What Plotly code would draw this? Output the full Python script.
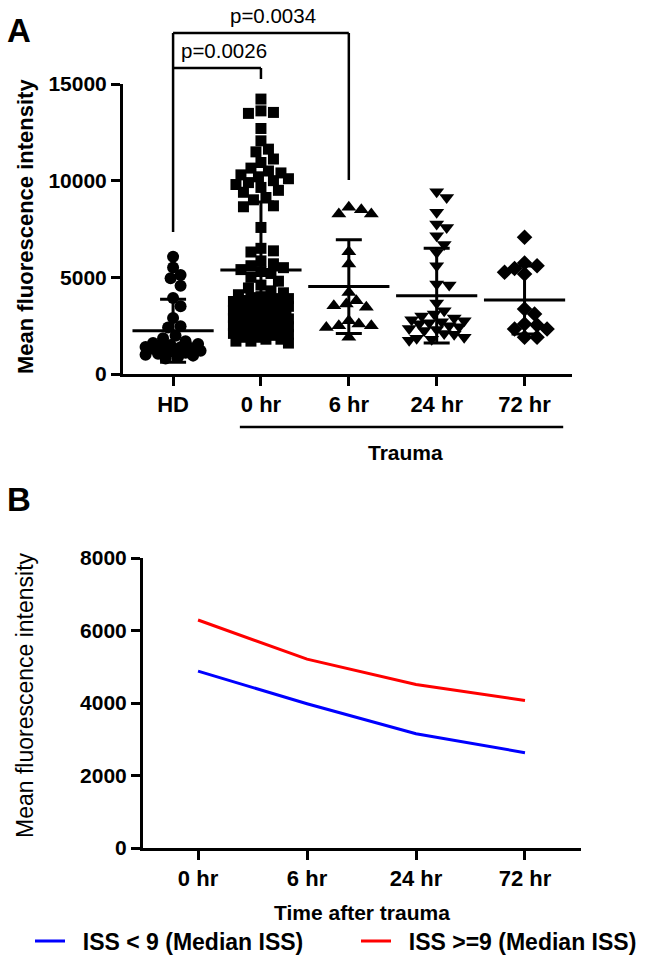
import plotly.graph_objects as go
import numpy as np

# ---------------- Panel A data ----------------
CATEGORIES_A = ["HD", "0 hr", "6 hr", "24 hr", "72 hr"]

HD = [6070, 5510, 4950, 5120, 4570, 3930, 3500, 2900, 2470, 2410,
      1980, 1850, 1700, 1600, 1550, 1500, 1450, 1400, 1380, 1350,
      1300, 1250, 1200, 1150, 1100, 1050, 1000, 950, 880, 800]

HR0 = [14220, 13610, 13530, 13480, 12700, 12060, 11630, 11490, 11120, 10940,
       10650, 10500, 10400, 10300, 10200, 10100, 10000, 9900, 9800, 9650, 9500, 9400,
       9130, 9010, 8700, 8650, 7580, 6500, 6370, 6310,
       5850, 5700, 5600, 5500, 5400, 5300, 5200, 5000, 4800, 4600,
       4450, 4300, 4200, 4100, 4000, 3950, 3900, 3800, 3750, 3700,
       3650, 3600, 3550, 3500, 3450, 3400, 3350, 3300, 3250, 3200,
       3150, 3100, 3050, 3000, 2950, 2900, 2850, 2800, 2700, 2600,
       2500, 2400, 2300, 2200, 2100, 2000, 1900, 1800, 1700, 1600,
       3900, 3700, 3500, 3300, 3100, 2900, 2700, 2500, 2300, 2100,
       1900, 1700, 3800, 3400, 3000, 2600, 2200, 1800, 2050, 2450]

HR6 = [8500, 8270, 8270, 8620, 6320, 5690, 4220, 3620, 3790, 3530,
       3450, 2590, 2500, 2760, 2500, 1900, 2400]

HR24 = [9430, 9130, 8360, 7580, 7760, 7150, 6700, 6290, 5600, 4600, 4650, 3670,
        3270, 3100, 3000, 2900, 2800, 2700, 2600, 2500, 2300, 2100, 1900, 1750,
        2750, 2650, 2450, 2350, 2250, 2050, 1850, 1800]

HR72 = [7070, 5740, 5460, 5600, 5170, 5260, 3360, 3100, 2590, 2530,
        2330, 1900, 1900, 2330]

MEANS_A = [2240, 5380, 4520, 4050, 3830]
SDS_A = [1630, 3520, 2420, 2450, 1760]

P_LABELS = ["p=0.0026", "p=0.0034"]

# ---------------- Panel B data ----------------
CATEGORIES_B = ["0 hr", "6 hr", "24 hr", "72 hr"]
ISS_LOW = [4880, 3980, 3150, 2630]
ISS_HIGH = [6290, 5210, 4510, 4070]
SERIES_NAMES = ["ISS < 9 (Median ISS)", "ISS >=9 (Median ISS)"]

FONT = "Liberation Sans, Arial, sans-serif"
W, H = 646, 960

# panel A geometry (pixels)
A_X0, A_X1 = 123, 572
A_Y0, A_Y1 = 374, 84
A_XR = [-0.57, 4.54]
A_YR = [0, 15000]
# panel B geometry
B_X0, B_X1 = 143, 581
B_Y0, B_Y1 = 848, 558
B_XR = [-0.505, 3.514]
B_YR = [0, 8000]

px_per_cat = (A_X1 - A_X0) / (A_XR[1] - A_XR[0])
px_per_val = (A_Y0 - A_Y1) / (A_YR[1] - A_YR[0])


def beeswarm(values, diam=10.5, maxoff=29.0, step=2.5):
    """Deterministic beeswarm offsets (in category units)."""
    order = np.argsort(values)[::-1]
    placed = []
    offs = np.zeros(len(values))
    cands = [0.0]
    k = 1
    while k * step <= maxoff:
        cands += [k * step, -k * step]
        k += 1
    for i in order:
        y = values[i] * px_per_val
        best, bestd = 0.0, -1
        chosen = None
        for c in cands:
            if placed:
                d = min(np.hypot(c - px, y - py_) for px, py_ in placed)
            else:
                d = 1e9
            if d >= diam:
                chosen = c
                break
            if d > bestd:
                bestd, best = d, c
        if chosen is None:
            chosen = best
        placed.append((chosen, y))
        offs[i] = chosen / px_per_cat
    return offs


groups = [HD, HR0, HR6, HR24, HR72]
symbols = ["circle", "square", "triangle-up", "triangle-down", "diamond"]
sizes = [12, 11, 13, 13, 12]

fig = go.Figure()

for gi, (vals, sym, sz) in enumerate(zip(groups, symbols, sizes)):
    offs = beeswarm(vals)
    fig.add_trace(go.Scatter(
        x=[gi + o for o in offs], y=vals, mode="markers",
        marker=dict(symbol=sym, size=sz, color="black", line=dict(width=0)),
        showlegend=False, xaxis="x", yaxis="y", hoverinfo="y"))

# mean +/- SD
fig.add_trace(go.Scatter(
    x=list(range(len(CATEGORIES_A))), y=MEANS_A, mode="markers",
    marker=dict(symbol="line-ew", size=58, color="black",
                line=dict(width=3, color="black")),
    error_y=dict(type="data", array=SDS_A, symmetric=True, width=13,
                 thickness=3, color="black"),
    showlegend=False, xaxis="x", yaxis="y"))

# Panel B lines
NBSP = "\u00a0\u00a0"
fig.add_trace(go.Scatter(
    x=list(range(len(CATEGORIES_B))), y=ISS_LOW, mode="lines",
    line=dict(color="#0000FF", width=3), name=NBSP + SERIES_NAMES[0],
    xaxis="x2", yaxis="y2", legend="legend"))
fig.add_trace(go.Scatter(
    x=list(range(len(CATEGORIES_B))), y=ISS_HIGH, mode="lines",
    line=dict(color="#FF0000", width=3), name=NBSP + SERIES_NAMES[1],
    xaxis="x2", yaxis="y2", legend="legend2"))


def py(p):
    return 1 - p / H


axis_common = dict(showgrid=False, zeroline=False, showline=True, linecolor="black",
                   linewidth=3, ticks="outside", ticklen=9, tickwidth=2.5,
                   tickcolor="black", automargin=False,
                   tickfont=dict(family=FONT, size=21, color="black", weight="bold"))
xtickfont = dict(family=FONT, size=22, color="black", weight="bold")
legfont = dict(family=FONT, size=23, color="black", weight="bold")

fig.update_layout(
    width=W, height=H, margin=dict(l=0, r=0, t=0, b=0, autoexpand=False),
    plot_bgcolor="white", paper_bgcolor="white",
    xaxis=dict(domain=[A_X0 / W, A_X1 / W], range=A_XR, anchor="y",
               tickvals=list(range(len(CATEGORIES_A))), ticktext=CATEGORIES_A,
               **{**axis_common, "tickfont": xtickfont}),
    yaxis=dict(domain=[py(A_Y0), py(A_Y1)], range=A_YR, anchor="x",
               tickvals=[0, 5000, 10000, 15000], tickformat="d", **axis_common),
    xaxis2=dict(domain=[B_X0 / W, B_X1 / W], range=B_XR, anchor="y2",
                tickvals=list(range(len(CATEGORIES_B))), ticktext=CATEGORIES_B,
                **{**axis_common, "tickfont": xtickfont}),
    yaxis2=dict(domain=[py(B_Y0), py(B_Y1)], range=B_YR, anchor="x2",
                tickvals=[0, 2000, 4000, 6000, 8000], tickformat="d", **axis_common),
    showlegend=True,
    legend=dict(orientation="h", x=30 / W, xanchor="left", y=py(941), yanchor="middle",
                font=legfont, bgcolor="rgba(0,0,0,0)", borderwidth=0),
    legend2=dict(orientation="h", x=356 / W, xanchor="left", y=py(941), yanchor="middle",
                 font=legfont, bgcolor="rgba(0,0,0,0)", borderwidth=0),
)

# significance brackets (x in data, y in paper)
br = dict(type="line", xref="x", yref="paper", line=dict(color="black", width=2.5))
fig.add_shape(**br, x0=0, x1=0, y0=py(232), y1=py(33))
fig.add_shape(**br, x0=0, x1=1, y0=py(68), y1=py(68))
fig.add_shape(**br, x0=1, x1=1, y0=py(68), y1=py(79))
fig.add_shape(**br, x0=0, x1=2, y0=py(33), y1=py(33))
fig.add_shape(**br, x0=2, x1=2, y0=py(33), y1=py(180))
# Trauma line
fig.add_shape(**br, x0=0.76, x1=4.44, y0=py(427), y1=py(427))

ann = []
ann.append(dict(text=P_LABELS[0], x=0.07, xref="x", y=py(50), yref="paper",
                xanchor="left", yanchor="middle", showarrow=False,
                font=dict(family=FONT, size=20.5, color="black")))
ann.append(dict(text=P_LABELS[1], x=1.14, xref="x", y=py(15), yref="paper",
                xanchor="center", yanchor="middle", showarrow=False,
                font=dict(family=FONT, size=20.5, color="black")))
ann.append(dict(text="Trauma", x=2.65, xref="x", y=py(452), yref="paper",
                xanchor="center", yanchor="middle", showarrow=False,
                font=dict(family=FONT, size=21, color="black", weight="bold")))
ann.append(dict(text="A", x=19 / W, y=py(30), xref="paper", yref="paper",
                xanchor="center", yanchor="middle", showarrow=False,
                font=dict(family=FONT, size=33, color="black", weight="bold")))
ann.append(dict(text="B", x=19 / W, y=py(499), xref="paper", yref="paper",
                xanchor="center", yanchor="middle", showarrow=False,
                font=dict(family=FONT, size=33, color="black", weight="bold")))
ann.append(dict(text="Mean fluorescence intensity", x=25 / W, y=py(227),
                xref="paper", yref="paper", textangle=-90,
                xanchor="center", yanchor="middle", showarrow=False,
                font=dict(family=FONT, size=22, color="black", weight="bold")))
ann.append(dict(text="Mean fluorescence intensity", x=25 / W, y=py(695),
                xref="paper", yref="paper", textangle=-90,
                xanchor="center", yanchor="middle", showarrow=False,
                font=dict(family=FONT, size=23, color="black")))
ann.append(dict(text="Time after trauma", x=(B_X0 + B_X1) / 2 / W, y=py(912),
                xref="paper", yref="paper", xanchor="center", yanchor="middle",
                showarrow=False,
                font=dict(family=FONT, size=21, color="black", weight="bold")))
fig.update_layout(annotations=ann)

fig.write_html("out.html", config={"displayModeBar": False},
               post_script="document.body.style.margin='0';document.body.style.overflow='hidden';")
